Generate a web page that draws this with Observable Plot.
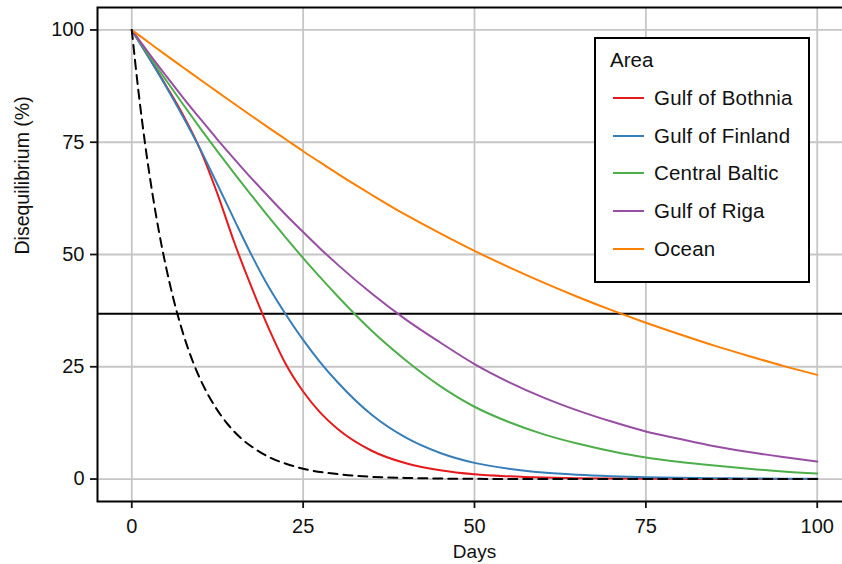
<!DOCTYPE html>
<html>
<head>
<meta charset="utf-8">
<script src="https://cdn.jsdelivr.net/npm/d3@7"></script>
<script src="https://cdn.jsdelivr.net/npm/@observablehq/plot@0.6"></script>
<style>
  html, body { margin: 0; padding: 0; background: #fff; overflow: hidden; }
  #wrap { position: relative; width: 842px; height: 564px; overflow: hidden; font-family: "Liberation Sans", Arial, sans-serif; }
  #chart svg { max-width: none !important; }
  #legend { position: absolute; left: 594px; top: 37px; width: 212px; height: 242px; border: 2px solid #000; background: #fff; }
  #legend .title { position: absolute; left: 14px; top: 9px; line-height: 24px; font-size: 20.5px; color: #111; }
  #legend .item { position: absolute; left: 17px; height: 22px; display: flex; align-items: center; font-size: 20.5px; letter-spacing: 0.2px; color: #111; white-space: nowrap; }
  #legend .swatch { width: 31px; height: 0; border-top: 2.5px solid; margin-right: 10px; }
</style>
</head>
<body>
<div id="wrap"><div id="chart"></div><div id="legend"></div></div>
<script>
const areas = ["Gulf of Bothnia", "Gulf of Finland", "Central Baltic", "Gulf of Riga", "Ocean"];
const colors = ["#E41A1C", "#377EB8", "#4DAF4A", "#984EA3", "#FF7F00"];
const days = [0,2.5,5,7.5,10,12.5,15,17.5,20,22.5,25,27.5,30,35,40,45,50,55,60,65,70,75,80,85,90,95,100];
const bothnia = [100,93.9,87.6,81.0,73.3,63.5,52.5,42.6,33.5,25.5,19.5,14.8,11.2,6.3,3.5,1.95,1.05,0.6,0.33,0.19,0.11,0.06,0.035,0.02,0.01,0.005,0];
const finland = [100,93.8,87.4,80.6,73.4,65.6,57.6,49.8,42.7,36.6,31.0,26.0,21.6,14.3,9.2,5.8,3.6,2.3,1.45,0.95,0.62,0.4,0.27,0.18,0.12,0.08,0.05];
const central = [100,94.3,88.8,83.4,78.1,72.95,67.95,63.1,58.3,53.7,49.2,44.9,40.75,33.0,26.4,20.7,16.1,12.7,10.0,7.9,6.2,4.8,3.8,3.0,2.3,1.7,1.25];
const riga = [100,94.8,89.8,84.9,80.2,75.6,71.2,66.9,62.8,58.8,55.0,51.3,47.8,41.3,35.5,30.4,25.6,21.6,18.2,15.3,12.8,10.6,8.9,7.3,6.0,4.9,3.9];
const ocean = [100,97.2,94.4,91.65,88.9,86.2,83.5,80.85,78.2,75.6,73.0,70.5,68.0,63.3,58.8,54.7,50.8,47.2,43.8,40.6,37.6,34.8,32.2,29.7,27.4,25.2,23.2];
const refDays = [0,1,2,3,4,5,6,7,8,9,10,12,14,16,18,20,22.5,25,30,35,40,50,60,80,100];
const refValues = [100,86,74,63.7,54.8,47.2,40.6,34.9,30,25.8,22.2,16.5,12.2,9.0,6.7,4.9,3.4,2.3,1.1,0.5,0.25,0.05,0.01,0,0];
const eFold = 100 / Math.E;
const ticks = [0, 25, 50, 75, 100];

const seriesValues = [bothnia, finland, central, riga, ocean];
const rows = [];
areas.forEach((a, i) => days.forEach((d, j) => rows.push({area: a, day: d, value: seriesValues[i][j]})));
const refRows = refDays.map((d, j) => ({day: d, value: refValues[j]}));

const chart = Plot.plot({
  width: 860,
  height: 564,
  marginLeft: 97,
  marginRight: 9,
  marginTop: 7,
  marginBottom: 63,
  style: {fontFamily: "Liberation Sans, Arial, sans-serif", background: "transparent", color: "#111", maxWidth: "none"},
  x: {domain: [-5, 105]},
  y: {domain: [-5, 105]},
  color: {domain: areas, range: colors},
  marks: [
    Plot.gridX(ticks, {stroke: "#c6c6c6", strokeOpacity: 1, strokeWidth: 1.8}),
    Plot.gridY(ticks, {stroke: "#c6c6c6", strokeOpacity: 1, strokeWidth: 1.8}),
    Plot.ruleY([eFold], {stroke: "#000", strokeWidth: 2}),
    Plot.line(rows, {x: "day", y: "value", z: "area", stroke: "area", strokeWidth: 2, curve: "monotone-x"}),
    Plot.line(refRows, {x: "day", y: "value", stroke: "#000", strokeWidth: 2, strokeDasharray: "9,6", curve: "monotone-x"}),
    Plot.frame({stroke: "#000", strokeWidth: 2}),
    Plot.axisX(ticks, {tickSize: 7, tickPadding: 10, fontSize: 20, label: null, stroke: "#111", strokeWidth: 1.8, fill: "#111"}),
    Plot.axisY(ticks, {tickSize: 7, tickPadding: 6, fontSize: 20, label: null, stroke: "#111", strokeWidth: 1.8, fill: "#111"}),
    Plot.text(["Days"], {text: d => d, frameAnchor: "bottom", dy: 56, fontSize: 19, fill: "#111"}),
    Plot.text(["Disequilibrium (%)"], {text: d => d, frameAnchor: "left", dx: -75, rotate: -90, fontSize: 19.5, fill: "#111"})
  ]
});
document.getElementById("chart").appendChild(chart);

const legend = document.getElementById("legend");
const t = document.createElement("div");
t.className = "title"; t.textContent = "Area";
legend.appendChild(t);
areas.forEach((a, i) => {
  const it = document.createElement("div");
  it.className = "item";
  it.style.top = (48 + i * 37.7) + "px";
  const sw = document.createElement("span");
  sw.className = "swatch"; sw.style.borderTopColor = colors[i];
  const lb = document.createElement("span");
  lb.textContent = a;
  it.appendChild(sw); it.appendChild(lb);
  legend.appendChild(it);
});
</script>
</body>
</html>
